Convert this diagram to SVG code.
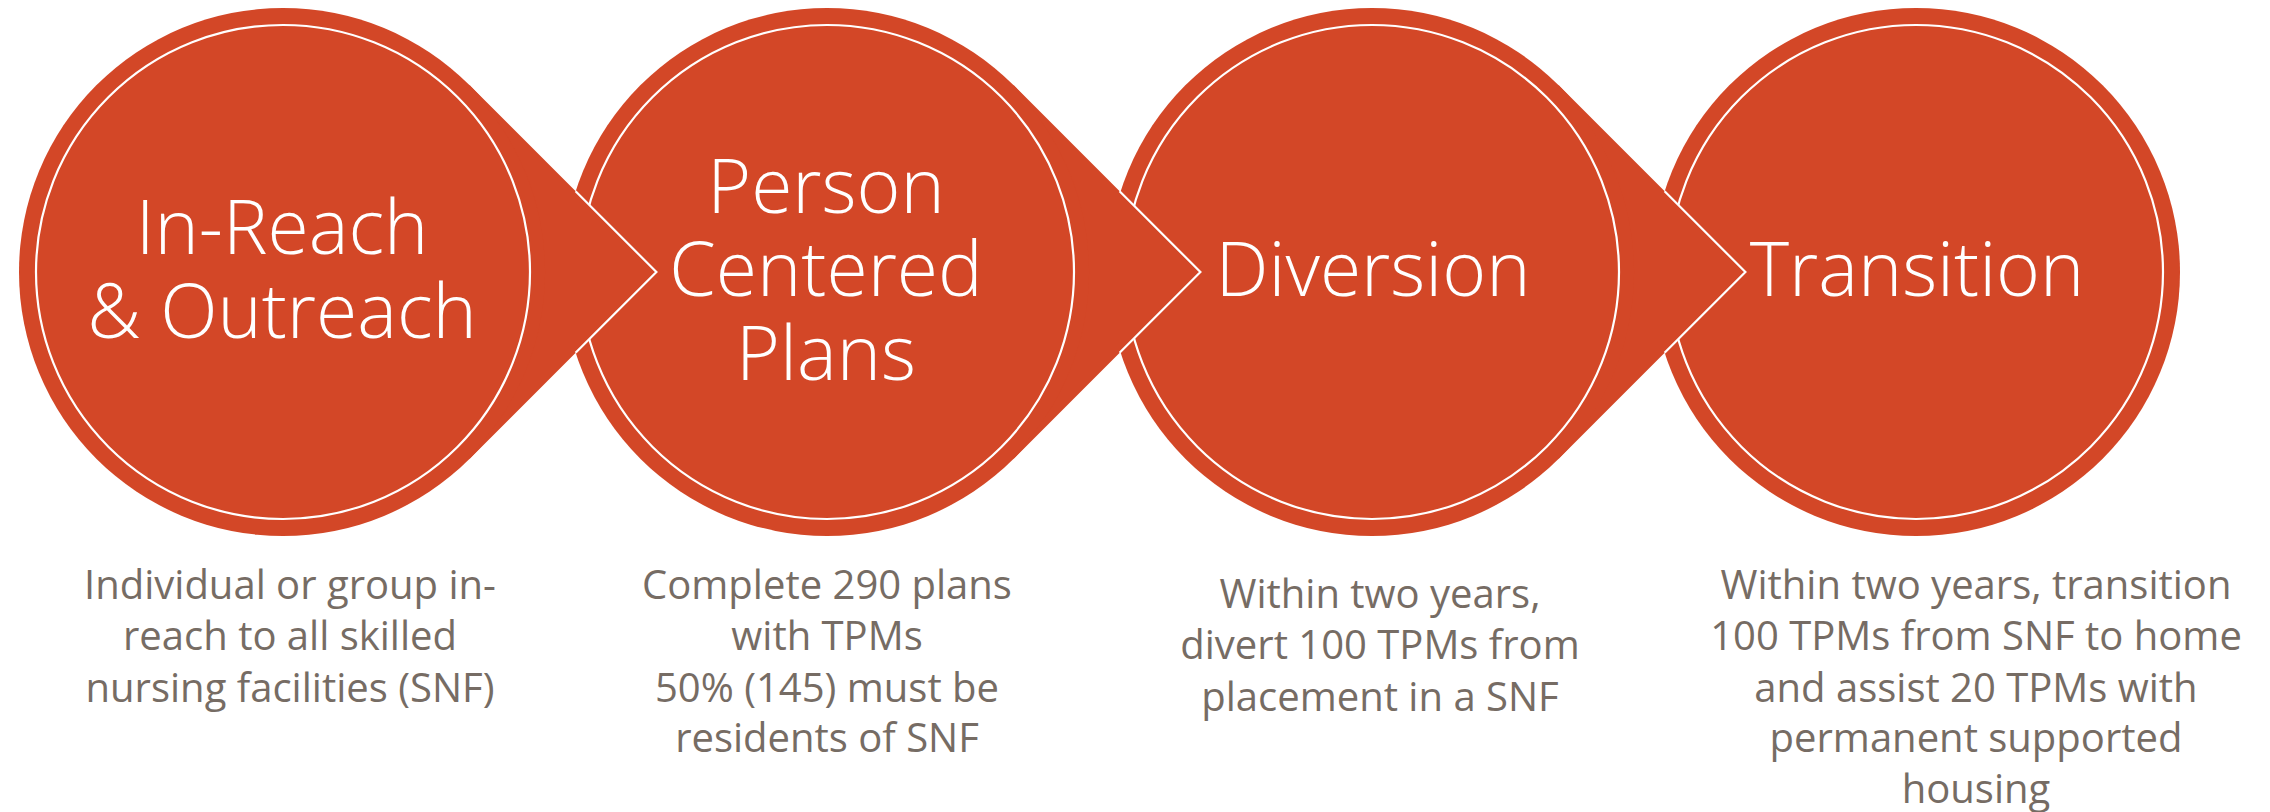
<svg xmlns="http://www.w3.org/2000/svg" width="2270" height="812" viewBox="0 0 2270 812">
  <style>
    .disc { fill: #D34727; }
    .ring { fill: none; stroke: #FFFFFF; stroke-width: 2.2; }
    .ptr { fill: #D34727; stroke: none; }
    .gap { fill: none; stroke: #FFFFFF; stroke-width: 2.2; stroke-linejoin: miter; }
    .title { font-family: "Open Sans", "Noto Sans", sans-serif; font-weight: 300; font-size: 75px; fill: #FFFFFF; text-anchor: middle; }
    .desc { font-family: "Open Sans", "Noto Sans", sans-serif; font-weight: 400; font-size: 40px; fill: #766C64; text-anchor: middle; }
  </style>
  <rect width="2270" height="812" fill="#FFFFFF"/>

  <g id="node-inreach">
    <circle class="disc" cx="283" cy="272" r="264"/>
    <circle class="ring" cx="283" cy="272" r="247"/>
    <text class="title"><tspan x="282" y="254">In-Reach</tspan><tspan x="282" y="337.5">&amp; Outreach</tspan></text>
    <text class="desc"><tspan x="290" y="599">Individual or group in-</tspan><tspan x="290" y="650">reach to all skilled</tspan><tspan x="290" y="702">nursing facilities (SNF)</tspan></text>
  </g>

  <g id="node-person-centered">
    <circle class="disc" cx="827" cy="272" r="264"/>
    <circle class="ring" cx="827" cy="272" r="247"/>
    <text class="title"><tspan x="826" y="212.5">Person</tspan><tspan x="826" y="296">Centered</tspan><tspan x="826" y="380">Plans</tspan></text>
    <text class="desc"><tspan x="827" y="599">Complete 290 plans</tspan><tspan x="827" y="650">with TPMs</tspan><tspan x="827" y="702">50% (145) must be</tspan><tspan x="827" y="752">residents of SNF</tspan></text>
  </g>

  <g id="node-diversion">
    <circle class="disc" cx="1372" cy="272" r="264"/>
    <circle class="ring" cx="1372" cy="272" r="247"/>
    <text class="title" x="1373" y="296">Diversion</text>
    <text class="desc"><tspan x="1380" y="608">Within two years,</tspan><tspan x="1380" y="659">divert 100 TPMs from</tspan><tspan x="1380" y="711">placement in a SNF</tspan></text>
  </g>

  <g id="node-transition">
    <circle class="disc" cx="1916" cy="272" r="264"/>
    <circle class="ring" cx="1916" cy="272" r="247"/>
    <text class="title" x="1917" y="296">Transition</text>
    <text class="desc"><tspan x="1976" y="599">Within two years, transition</tspan><tspan x="1976" y="650">100 TPMs from SNF to home</tspan><tspan x="1976" y="702">and assist 20 TPMs with</tspan><tspan x="1976" y="752">permanent supported</tspan><tspan x="1976" y="803">housing</tspan></text>
  </g>

  <g id="connectors">
    <path class="ptr" d="M469.7,85.3 L656.4,272 L469.7,458.7 L468.3,457.3 A262,262 0 0 0 468.3,86.7 Z"/>
    <path class="gap" d="M575.6,191.2 L656.4,272 L575.6,352.8"/>
    <path class="ptr" d="M1013.7,85.3 L1200.4,272 L1013.7,458.7 L1012.3,457.3 A262,262 0 0 0 1012.3,86.7 Z"/>
    <path class="gap" d="M1119.6,191.2 L1200.4,272 L1119.6,352.8"/>
    <path class="ptr" d="M1558.7,85.3 L1745.4,272 L1558.7,458.7 L1557.3,457.3 A262,262 0 0 0 1557.3,86.7 Z"/>
    <path class="gap" d="M1664.6,191.2 L1745.4,272 L1664.6,352.8"/>
  </g>
</svg>
